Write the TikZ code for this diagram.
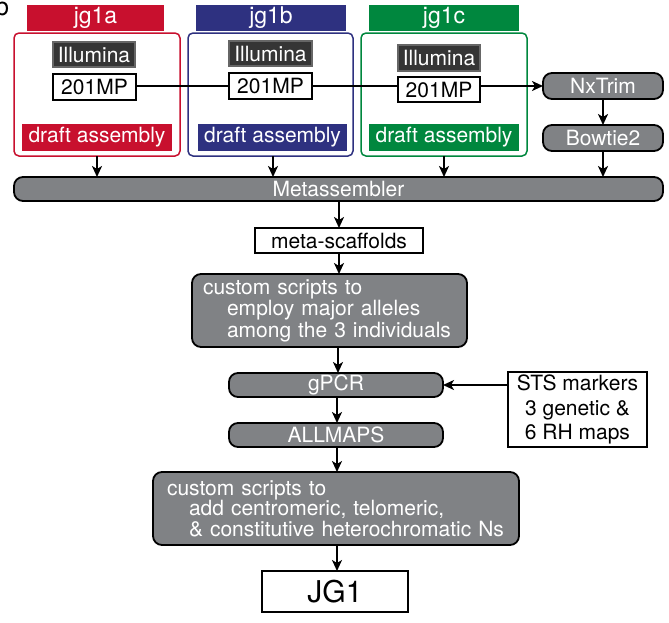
\documentclass[tikz,border=0pt]{standalone}
\usepackage{fontspec}
\setmainfont{TeX Gyre Heros}
\usetikzlibrary{arrows.meta}
\definecolor{cred}{HTML}{C8102E}
\definecolor{cblue}{HTML}{2E3180}
\definecolor{cgreen}{HTML}{00873E}
\definecolor{cgray}{HTML}{808285}
\definecolor{cdark}{HTML}{353535}
\begin{document}
\begin{tikzpicture}[x=1pt,y=-1pt,
  base/.style={inner sep=0pt, outer sep=0pt, font=\fontsize{21}{21.5}\selectfont},
  hdr/.style={base, text=white, font=\fontsize{23}{24}\selectfont},
  outerbox/.style={base, draw, line width=1.5pt, rounded corners=5pt},
  draftbox/.style={base, text=white},
  illbox/.style={base, fill=cdark, draw=black!60, line width=1.2pt, text=white},
  whitebox/.style={base, fill=white, draw=black, line width=1.6pt},
  graybox/.style={base, fill=cgray, draw=black, line width=1.8pt, rounded corners=9pt, text=white},
  arr/.style={line width=1.9pt, -{Stealth[length=11pt,width=10pt,inset=3pt]}},
  plain/.style={line width=1.9pt}
]
\useasboundingbox (0,0) rectangle (669,622);

\node[base, anchor=base west, font=\fontsize{25}{25}\selectfont] (plabel) at (-5,15.5) {b};

% headers
\node[hdr, fill=cred,   minimum width=137pt, minimum height=26pt] (hA) at (95.5,18) {jg1a};
\node[hdr, fill=cblue,  minimum width=150pt, minimum height=26pt] (hB) at (271,18) {jg1b};
\node[hdr, fill=cgreen, minimum width=150pt, minimum height=26pt] (hC) at (444,18) {jg1c};

% outer boxes
\node[outerbox, draw=cred,   minimum width=166pt, minimum height=123pt] (bA) at (97,94.5) {};
\node[outerbox, draw=cblue,  minimum width=165pt, minimum height=123pt] (bB) at (270.5,94.5) {};
\node[outerbox, draw=cgreen, minimum width=166pt, minimum height=123pt] (bC) at (444,94.5) {};

% Illumina
\node[illbox, minimum width=82pt, minimum height=25pt] (iA) at (94,54.5) {Illumina};
\node[illbox, minimum width=83pt, minimum height=25pt] (iB) at (270.5,53.5) {Illumina};
\node[illbox, minimum width=82pt, minimum height=26pt] (iC) at (439,58) {Illumina};

% 201MP
\node[whitebox, minimum width=83pt, minimum height=26pt] (mA) at (94.5,87) {201MP};
\node[whitebox, minimum width=83pt, minimum height=26pt] (mB) at (270.5,86) {201MP};
\node[whitebox, minimum width=82pt, minimum height=25pt] (mC) at (439,89.5) {201MP};

% draft assembly
\node[draftbox, fill=cred,   minimum width=150pt, minimum height=27pt] (dA) at (97,137.5) {draft assembly};
\node[draftbox, fill=cblue,  minimum width=149pt, minimum height=27pt] (dB) at (272.5,137.5) {draft assembly};
\node[draftbox, fill=cgreen, minimum width=150pt, minimum height=27pt] (dC) at (444,137.5) {draft assembly};

% right column
\node[graybox, minimum width=120pt, minimum height=26pt] (nx) at (603,86) {NxTrim};
\node[graybox, minimum width=120pt, minimum height=26pt] (bt) at (603,138) {Bowtie2};

% Metassembler
\node[graybox, minimum width=649pt, minimum height=24pt] (meta) at (338.5,189) {Metassembler};

\node[whitebox, minimum width=168pt, minimum height=25pt] (ms) at (339,240.5) {meta-scaffolds};

\node[graybox, inner xsep=11pt, text width=253pt, align=left, minimum height=73pt] (cs1) at (329.5,310.5)
  {custom scripts to\\\hspace*{24pt}employ major alleles\\\hspace*{24pt}among the 3 individuals};

\node[graybox, minimum width=214pt, minimum height=24pt] (gpcr) at (336,385) {gPCR};
\node[graybox, minimum width=214pt, minimum height=24pt] (allm) at (336,435) {ALLMAPS};

\node[whitebox, align=center, minimum width=139pt, minimum height=75pt,
  font=\fontsize{21}{24.5}\selectfont] (sts) at (577.5,409.5)
  {STS markers\\3 genetic \&\\6 RH maps};

\node[graybox, inner xsep=14pt, text width=338pt, align=left, minimum height=73pt,
  font=\fontsize{21}{20.5}\selectfont] (cs2) at (336,508.5)
  {custom scripts to\\\hspace*{22pt}add centromeric, telomeric,\\\hspace*{22pt}\& constitutive heterochromatic Ns};

\node[whitebox, minimum width=146pt, minimum height=41pt, font=\fontsize{30}{30}\selectfont] (jg) at (335,591.5) {JG1};

% 201MP line
\draw[plain] (mA.east |- nx.west) -- (mB.west |- nx.west);
\draw[plain] (mB.east |- nx.west) -- (mC.west |- nx.west);
\draw[arr] (mC.east |- nx.west) -- (nx.west);

\draw[arr] (nx.south) -- (bt.north);
\draw[arr] (bA.south -| 97,0) -- (meta.north -| 97,0);
\draw[arr] (bB.south -| 273,0) -- (meta.north -| 273,0);
\draw[arr] (bC.south -| 444,0) -- (meta.north -| 444,0);
\draw[arr] (bt.south) -- (meta.north -| bt.south);

\draw[arr] (meta.south -| ms.north) -- (ms.north);
\draw[arr] (ms.south) -- (cs1.north -| ms.south);
\draw[arr] (cs1.south -| 338,0) -- (gpcr.north -| 338,0);
\draw[arr] (gpcr.south -| 337,0) -- (allm.north -| 337,0);
\draw[arr] (allm.south -| 337,0) -- (cs2.north -| 337,0);
\draw[arr] (cs2.south -| 337,0) -- (jg.north -| 337,0);
\draw[arr] (sts.west |- gpcr.east) -- (gpcr.east);
\end{tikzpicture}
\end{document}
